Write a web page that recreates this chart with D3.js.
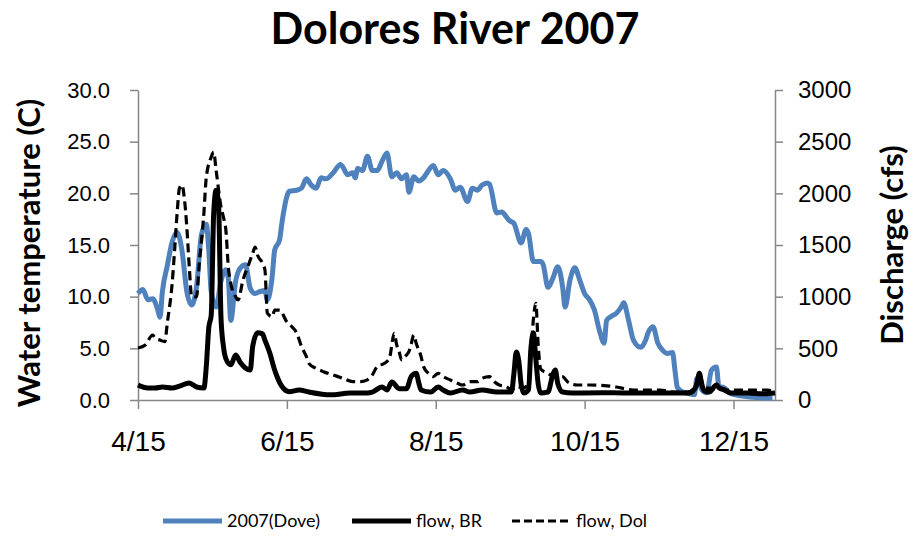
<!DOCTYPE html>
<html>
<head>
<meta charset="utf-8">
<script src="https://cdn.jsdelivr.net/npm/d3@7"></script>
<style>
  body { margin: 0; background: #fff; }
  svg { font-family: Lato, "Open Sans", sans-serif; }
</style>
</head>
<body>
<svg width="914" height="540"></svg>
<script>
// days counted from April 15, 2007
var tempDay = [0,2,4,6,8,9,10,12,14,16,18,20,22,24,26,28,29,30,32,34,36,37,38,40,42,44,46,48,50,52,53,55,56,58,59,61,62,65,67,69,71,73,75,77,80,83,86,88,89,90,92,94,96,98,100,102,104,106,108,110,111,113,115,117,119,121,123,125,128,130,132,135,137,139,141,143,144,147,149,151,152,154,157,159,160,162,165,166,168,170,172,174,175,177,179,181,183,185,187,189,191,192,194,196,198,199,201,203,206,208,209,211,213,215,217,219,220,221,223,226,228,229,231,233,235,237,238,240,243,247,251,256,260];
var tempC = [10.3,10.7,9.7,9.8,8.8,8.0,10.5,13.0,15.3,16.2,14.5,10.5,9.2,11.0,16.0,17.0,14.5,10.5,9.0,11.5,12.6,11.8,7.7,11.5,12.8,13.1,10.8,10.3,10.5,10.6,9.7,12.0,14.5,15.5,17.2,19.7,20.2,20.3,20.5,21.4,20.8,20.5,21.5,21.4,22.0,22.8,21.8,22.0,21.5,22.4,22.2,23.6,22.2,22.2,23.1,23.9,21.6,22.0,21.4,21.8,20.1,21.6,21.2,21.5,22.2,22.7,21.8,22.2,21.4,20.3,20.6,19.2,20.5,20.3,20.8,21.0,20.9,18.1,18.2,17.7,17.4,17.1,15.2,16.5,16.1,13.4,13.4,13.1,10.9,11.8,12.9,10.9,9.0,11.6,12.8,11.6,10.3,9.7,8.7,6.8,5.5,7.7,8.1,8.4,9.0,9.4,7.7,5.8,5.1,5.8,6.5,7.1,5.5,4.8,4.5,4.6,2.9,1.2,0.8,0.6,0.5,2.1,1.0,0.7,2.9,3.2,1.3,1.2,0.6,0.4,0.3,0.2,0.2];

var brDay = [0,4,7,10,14,17,21,24,27,28,29,30,31,32,33,34,35,36,38,40,42,44,46,47,49,51,52,54,56,57,59,62,66,70,79,87,94,96,100,102,104,107,110,112,114,115,116,120,123,125,128,133,136,141,147,153,154,155,156,157,158,160,161,162,163,164,165,168,170,171,172,174,178,190,200,210,220,226,229,230,231,232,234,237,238,240,243,250,256,261];
var brCfs = [145,116,116,126,116,135,165,126,116,330,700,820,1800,2030,1900,800,520,400,340,435,360,310,290,520,650,640,580,455,290,225,130,80,97,77,50,68,68,77,126,97,174,110,110,230,260,170,97,77,126,97,68,97,77,97,77,77,250,465,380,150,68,100,500,648,400,150,68,77,250,290,160,77,68,70,68,68,68,68,150,260,150,90,77,145,120,100,68,68,60,68];

var dolDay = [0,3,6,7,9,11,12,14,15,16,17,18,19,20,21,22,24,25,27,28,30,31,32,34,35,36,37,38,40,41,43,45,47,48,49,51,52,53,55,56,58,61,63,65,67,69,70,73,76,80,84,88,91,94,96,98,101,103,105,106,107,108,110,111,112,113,114,116,117,119,121,123,125,128,131,133,136,139,141,144,146,148,151,153,155,158,160,161,162,163,164,165,168,170,174,176,180,185,191,196,203,209,214,219,225,228,230,232,236,241,247,252,258,261];
var dolCfs = [503,532,629,600,580,565,745,1130,1450,1800,2050,2080,1950,1675,1290,1000,997,1290,1810,2160,2350,2400,2225,1870,1770,1645,1290,1130,1000,968,1160,1290,1420,1480,1400,1325,1260,840,806,870,870,755,710,650,516,420,355,306,274,242,210,177,177,195,242,323,355,403,645,532,468,387,435,468,548,629,548,420,323,258,226,258,226,194,161,145,177,177,210,226,177,145,129,97,130,120,150,450,780,935,520,300,258,230,226,177,145,145,140,126,97,97,97,77,77,120,250,120,110,97,97,97,97,80];

var tempTicks = [0,5,10,15,20,25,30];
var flowTicks = [0,500,1000,1500,2000,2500,3000];
var dateTicks = ["2007-04-15","2007-06-15","2007-08-15","2007-10-15","2007-12-15"];
var seriesNames = ["2007(Dove)", "flow, BR", "flow, Dol"];

var margin = {top: 90, right: 139, bottom: 140, left: 138},
    width = 914 - margin.left - margin.right,
    height = 540 - margin.top - margin.bottom;

var start = new Date(2007, 3, 15);
var parseDate = d3.timeParse("%Y-%m-%d");

function toPoints(days, vals) {
  return days.map(function(d, i) { return {date: d3.timeDay.offset(start, d), v: vals[i]}; });
}
var tempData = toPoints(tempDay, tempC),
    brData = toPoints(brDay, brCfs),
    dolData = toPoints(dolDay, dolCfs);

var x = d3.scaleTime().domain([start, new Date(2008, 0, 1)]).range([0, width]);
var yT = d3.scaleLinear().domain([0, 30]).range([height, 0]);
var yQ = d3.scaleLinear().domain([0, 3000]).range([height, 0]);

var svg = d3.select("svg")
  .append("g")
  .attr("transform", "translate(" + margin.left + "," + margin.top + ")");

var axisColor = "#868686";

// Axes
var xAxis = svg.append("g")
  .attr("transform", "translate(0," + height + ")")
  .call(d3.axisBottom(x).tickValues(dateTicks.map(parseDate))
    .tickFormat(d3.timeFormat("%-m/%-d")).tickSize(9).tickSizeOuter(0).tickPadding(22));
xAxis.selectAll("text").style("font-size", "28px");

var yAxisL = svg.append("g")
  .call(d3.axisLeft(yT).tickValues(tempTicks).tickFormat(d3.format(".1f"))
    .tickSize(8).tickSizeOuter(0).tickPadding(20));
yAxisL.selectAll("text").style("font-size", "22px");

var yAxisR = svg.append("g")
  .attr("transform", "translate(" + width + ",0)")
  .call(d3.axisRight(yQ).tickValues(flowTicks).tickFormat(d3.format("d"))
    .tickSize(8).tickSizeOuter(0).tickPadding(15));
yAxisR.selectAll("text").style("font-size", "24px");

svg.selectAll(".domain, .tick line").style("stroke", axisColor).style("stroke-width", 1.5);
svg.selectAll(".tick text").style("fill", "#000");

// Lines
var lineT = d3.line().x(function(d) { return x(d.date); }).y(function(d) { return yT(d.v); }).curve(d3.curveMonotoneX);
var lineQ = d3.line().x(function(d) { return x(d.date); }).y(function(d) { return yQ(d.v); }).curve(d3.curveMonotoneX);

svg.append("path").datum(tempData)
  .attr("d", lineT).attr("fill", "none")
  .attr("stroke", "#4F81BD").attr("stroke-width", 5).attr("stroke-linejoin", "round");

svg.append("path").datum(brData)
  .attr("d", lineQ).attr("fill", "none")
  .attr("stroke", "#000").attr("stroke-width", 5).attr("stroke-linejoin", "round");

svg.append("path").datum(dolData)
  .attr("d", lineQ).attr("fill", "none")
  .attr("stroke", "#000").attr("stroke-width", 3.2).attr("stroke-dasharray", "9,5");

// Title and axis labels
var root = d3.select("svg");
root.append("text")
  .attr("x", 455).attr("y", 44)
  .style("text-anchor", "middle").style("font-weight", "bold").style("font-size", "43px")
  .text("Dolores River 2007");

root.append("text")
  .attr("transform", "translate(40,253) rotate(-90)")
  .style("text-anchor", "middle").style("font-weight", "bold").style("font-size", "31px")
  .text("Water temperature (C)");

root.append("text")
  .attr("transform", "translate(903,245) rotate(-90)")
  .style("text-anchor", "middle").style("font-weight", "bold").style("font-size", "31px")
  .text("Discharge (cfs)");

// Legend
var legendItems = [
  {x: 163, color: "#4F81BD", w: 5, dash: null},
  {x: 352, color: "#000", w: 5, dash: null},
  {x: 512, color: "#000", w: 3, dash: "8,4"}
];
var legend = root.selectAll(".legend")
  .data(legendItems)
  .enter().append("g")
  .attr("class", "legend")
  .attr("transform", function(d) { return "translate(" + d.x + ",521)"; });

legend.append("line")
  .attr("x1", 0).attr("x2", 59).attr("y1", 0).attr("y2", 0)
  .style("stroke", function(d) { return d.color; })
  .style("stroke-width", function(d) { return d.w; })
  .style("stroke-dasharray", function(d) { return d.dash; });

legend.append("text")
  .attr("x", 64).attr("dy", ".35em")
  .style("font-size", "18px")
  .text(function(d, i) { return seriesNames[i]; });
</script>
</body>
</html>
